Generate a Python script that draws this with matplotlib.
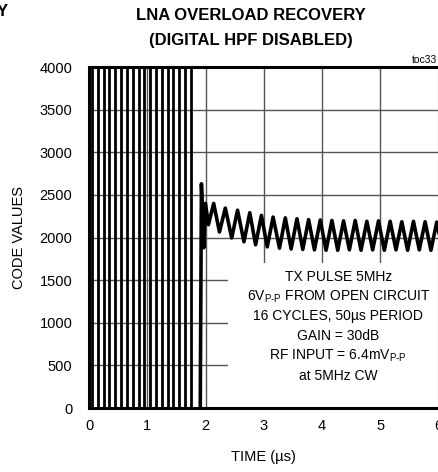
"""LNA overload recovery (digital HPF disabled) - code values vs time."""

import matplotlib

matplotlib.use("Agg")
import matplotlib.pyplot as plt
from matplotlib.patches import Rectangle

plt.rcParams["font.family"] = ["Liberation Sans", "DejaVu Sans"]
plt.rcParams["mathtext.fontset"] = "custom"
plt.rcParams["mathtext.rm"] = "Liberation Sans"
plt.rcParams["mathtext.it"] = "Liberation Sans"

# TX burst: ADC clipped rail to rail, edges (µs)
pulse_time = [0.00, 0.05, 0.15, 0.25, 0.35, 0.45, 0.55, 0.65, 0.75, 0.85,
              0.95, 1.05, 1.15, 1.25, 1.35, 1.45, 1.55, 1.65, 1.75, 1.91]
pulse_code = [0, 4095, 0, 4095, 0, 4095, 0, 4095, 0, 4095,
              0, 4095, 0, 4095, 0, 4095, 0, 4095, 0, 0]

# recovery: turning points of the 5MHz CW after the burst
rec_time = [1.91, 1.93, 1.97, 2.00, 2.05, 2.14, 2.24, 2.34, 2.45, 2.55,
            2.66, 2.76, 2.86, 2.96, 3.06, 3.16, 3.27, 3.37, 3.47, 3.57,
            3.67, 3.77, 3.87, 3.97, 4.07, 4.17, 4.27, 4.37, 4.47, 4.57,
            4.67, 4.77, 4.87, 4.97, 5.07, 5.17, 5.27, 5.37, 5.47, 5.57,
            5.67, 5.77, 5.87, 5.97, 6.07]
rec_code = [0, 2630, 1880, 2400, 2150, 2400, 2065, 2345, 1995, 2320,
            1950, 2290, 1915, 2260, 1890, 2240, 1875, 2230, 1865, 2220,
            1860, 2210, 1855, 2205, 1850, 2200, 1850, 2195, 1855, 2200,
            1850, 2190, 1855, 2195, 1850, 2190, 1855, 2185, 1850, 2190,
            1855, 2185, 1850, 2180, 1850]

x_ticks = [0, 1, 2, 3, 4, 5, 6]
y_ticks = [0, 500, 1000, 1500, 2000, 2500, 3000, 3500, 4000]

note_lines = [
    "TX PULSE 5MHz",
    r"6V$_{\mathrm{P\text{-}P}}$ FROM OPEN CIRCUIT",
    "16 CYCLES, 50µs PERIOD",
    "GAIN = 30dB",
    r"RF INPUT = 6.4mV$_{\mathrm{P\text{-}P}}$",
    "at 5MHz CW",
]


def main() -> None:
    fig = plt.figure(figsize=(4.38, 4.72), dpi=100)
    ax = fig.add_axes([89 / 438, 64 / 472, 349.5 / 438, 341 / 472])

    ax.set_xlim(0, 6)
    ax.set_ylim(0, 4000)
    ax.set_xticks(x_ticks)
    ax.set_yticks(y_ticks)
    ax.tick_params(length=0, labelsize=10.5)
    ax.tick_params(axis="y", pad=12)
    ax.tick_params(axis="x", pad=8)
    ax.grid(True, color="#555555", lw=1.0, zorder=1)
    ax.set_axisbelow(True)
    for side in ("top", "left", "bottom", "right"):
        ax.spines[side].set_linewidth(2.2)

    # blank patch where the test conditions sit
    ax.add_patch(Rectangle((2.38, 0), 4.0, 1700, facecolor="white",
                           edgecolor="none", zorder=2))

    ax.step(pulse_time, pulse_code, where="post", color="black", lw=2.0,
            zorder=3)
    ax.plot(rec_time, rec_code, color="black", lw=2.6, zorder=3,
            solid_joinstyle="round")

    for i, line in enumerate(note_lines):
        ax.text(4.28, 1540 - i * 232, line, ha="center", va="center",
                fontsize=10, zorder=4)

    ax.set_xlabel("TIME (µs)", fontsize=10.5, labelpad=12)
    ax.set_ylabel("CODE VALUES", fontsize=10.5, labelpad=10)

    fig.text(251 / 438, 1 - 15 / 472, "LNA OVERLOAD RECOVERY", ha="center",
             va="center", fontsize=12, fontweight="bold")
    fig.text(251 / 438, 1 - 40 / 472, "(DIGITAL HPF DISABLED)", ha="center",
             va="center", fontsize=12, fontweight="bold")
    fig.text(412 / 438, 1 - 60 / 472, "toc33", ha="left", va="center",
             fontsize=7.5)
    fig.text(-3 / 438, 1 - 12 / 472, "Y", ha="left", va="center",
             fontsize=12, fontweight="bold")

    fig.savefig("out.png", dpi=100)


if __name__ == "__main__":
    main()
